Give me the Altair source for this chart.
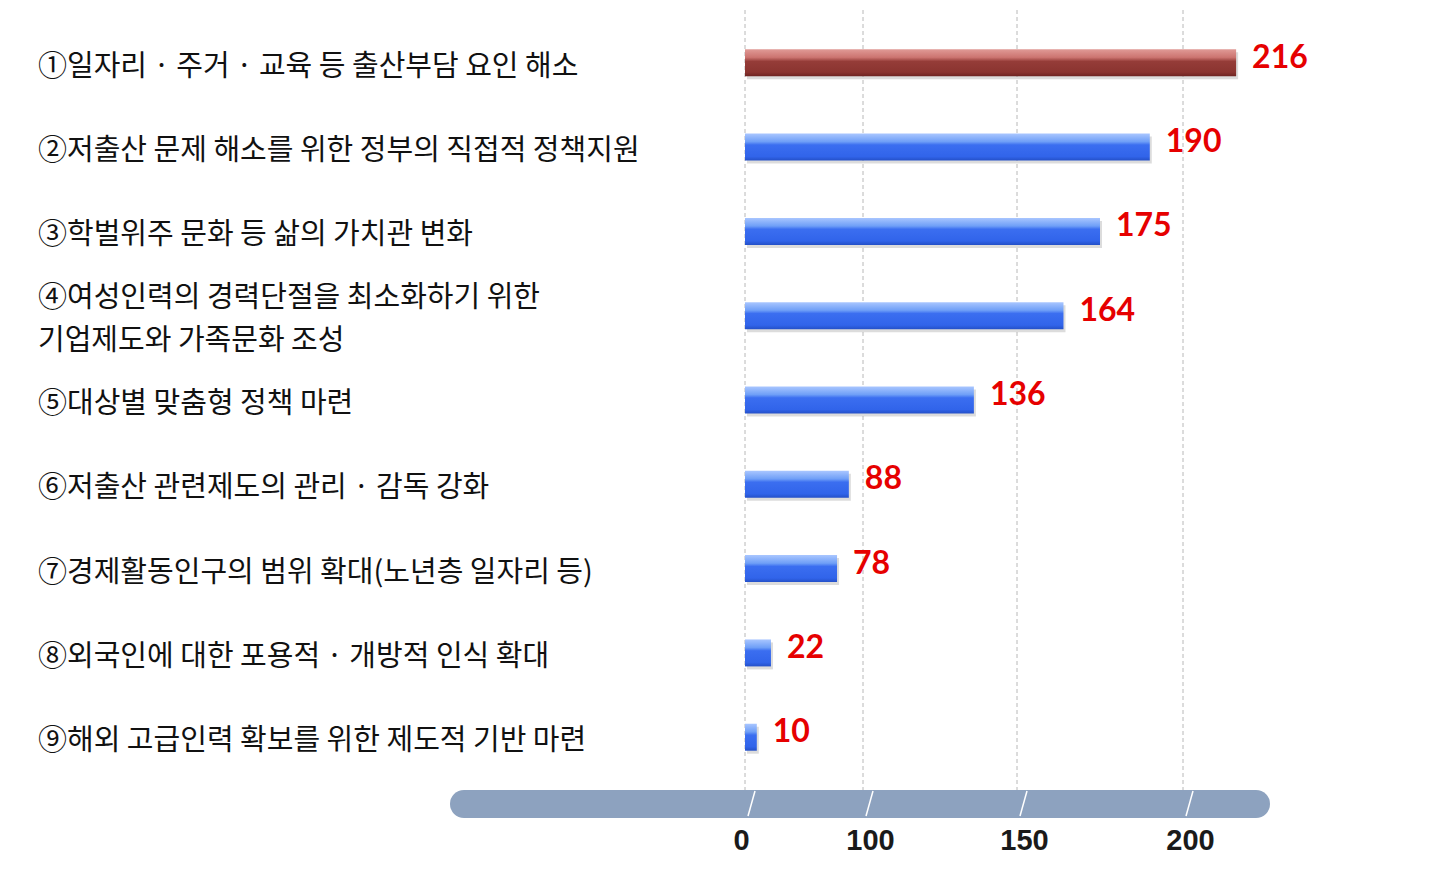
import altair as alt
import pandas as pd

categories = [
    "①일자리 · 주거 ·  교육 등 출산부담 요인 해소",
    "②저출산 문제 해소를 위한 정부의 직접적 정책지원",
    "③학벌위주 문화 등 삶의 가치관 변화",
    "④여성인력의 경력단절을 최소화하기 위한\n기업제도와 가족문화 조성",
    "⑤대상별 맞춤형 정책 마련",
    "⑥저출산 관련제도의  관리  ·  감독 강화",
    "⑦경제활동인구의 범위 확대(노년층 일자리 등)",
    "⑧외국인에 대한 포용적  ·  개방적 인식 확대",
    "⑨해외 고급인력 확보를 위한 제도적 기반 마련",
]
values = [216, 190, 175, 164, 136, 88, 78, 22, 10]
highlight = [True, False, False, False, False, False, False, False, False]
tick_values = [0, 100, 150, 200]

keys = [c.replace("\n", " ") for c in categories]
df = pd.DataFrame({"cat": categories, "val": values, "hl": highlight, "key": keys})
ticks_df = pd.DataFrame({"t": tick_values})
pill_df = pd.DataFrame({"a": [0]})

W, H = 525, 780

xscale = alt.Scale(domain=[0, 100, 150, 200, 250], range=[0, 118, 272, 438, 604])
yscale = alt.Scale(paddingInner=0.68, paddingOuter=0.466)
Y = alt.Y("key:N", sort=keys, axis=None, scale=yscale)
X = alt.X("val:Q", scale=xscale,
          axis=alt.Axis(values=tick_values, title=None, domain=False, ticks=False, grid=False,
                        labelFontSize=29, labelFontWeight="bold", labelFont="Liberation Sans",
                        labelColor="#1a1a1a", labelPadding=36,
                        labelOffset={"condition": {"test": "datum.value === 0", "value": -12}, "value": 7}))

blue = alt.Gradient(gradient="linear", x1=0, x2=0, y1=0, y2=1, stops=[
    alt.GradientStop(color="#a9c6ff", offset=0),
    alt.GradientStop(color="#6f9ff7", offset=0.3),
    alt.GradientStop(color="#3b6ef0", offset=0.42),
    alt.GradientStop(color="#3164ea", offset=0.85),
    alt.GradientStop(color="#2450c8", offset=1),
])
red = alt.Gradient(gradient="linear", x1=0, x2=0, y1=0, y2=1, stops=[
    alt.GradientStop(color="#e09a96", offset=0),
    alt.GradientStop(color="#cc7470", offset=0.3),
    alt.GradientStop(color="#953c38", offset=0.45),
    alt.GradientStop(color="#8a3430", offset=0.85),
    alt.GradientStop(color="#6e2422", offset=1),
])

grid = alt.Chart(ticks_df).mark_rule(color="#b8b8b8", strokeWidth=1, strokeDash=[4, 3]).encode(
    x=alt.X("t:Q", scale=xscale), y=alt.value(0), y2=alt.value(H))

pill = alt.Chart(pill_df).mark_rule(strokeWidth=28, strokeCap="round", color="#8da2bf").encode(
    x=alt.value(-281), x2=alt.value(511), y=alt.value(H + 14))

slashes = alt.Chart(ticks_df).mark_rule(color="white", strokeWidth=1.5, xOffset=3, x2Offset=10).encode(
    x=alt.X("t:Q", scale=xscale), x2="t:Q", y=alt.value(H + 26), y2=alt.value(H + 1))

base = alt.Chart(df)

shadow = base.mark_bar(color="#9a9a9a", opacity=0.35, yOffset=3, xOffset=2).encode(x=X, y=Y)
bars_blue = base.transform_filter("!datum.hl").mark_bar(color=blue).encode(x=X, y=Y)
bars_red = base.transform_filter("datum.hl").mark_bar(color=red).encode(x=X, y=Y)

val_text = base.mark_text(align="left", baseline="middle", dx=16, dy=-5, fontSize=32,
                          fontWeight="bold", font="Lato", color="#e60000").encode(
    x=X, y=Y, text="val:Q")

text_style = dict(align="left", baseline="middle", fontSize=29, lineHeight=43,
                  lineBreak="\n", font="Noto Sans CJK KR", color="#111111")
cat_single = base.transform_filter("indexof(datum.cat, '\\n') < 0").mark_text(dy=4, **text_style).encode(
    x=alt.value(-707), y=Y, text="cat:N")
cat_multi = base.transform_filter("indexof(datum.cat, '\\n') >= 0").mark_text(dy=-18, **text_style).encode(
    x=alt.value(-707), y=Y, text="cat:N")

chart = alt.layer(grid, pill, slashes, shadow, bars_blue, bars_red, val_text,
                  cat_single, cat_multi).properties(
    width=W, height=H,
    autosize=alt.AutoSizeParams(type="none"),
    padding={"left": 745, "top": 10, "right": 185, "bottom": 86},
    background="white",
).configure_view(stroke=None)

chart.save("out.html", embed_options={"renderer": "svg", "actions": False})
